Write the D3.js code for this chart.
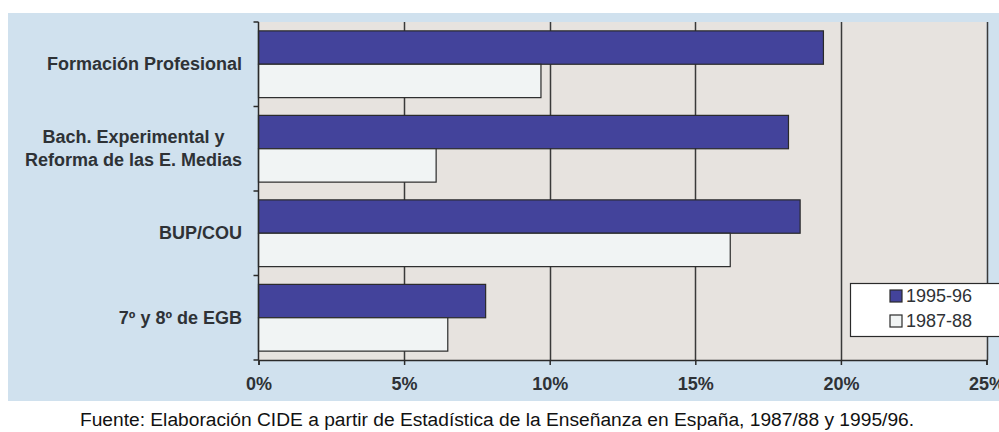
<!DOCTYPE html>
<html>
<head>
<meta charset="utf-8">
<script src="https://cdn.jsdelivr.net/npm/d3@7"></script>
<style>
  html, body { margin: 0; padding: 0; background: #ffffff; }
  svg { display: block; }
  text { font-family: Arial, "Liberation Sans", Helvetica, sans-serif; }
</style>
</head>
<body>
<svg id="chart" width="999" height="432"></svg>
<script>
// Categories, top to bottom
const categories = [
  "Formación Profesional",
  "Bach. Experimental y\nReforma de las E. Medias",
  "BUP/COU",
  "7º y 8º de EGB"
];
const seriesNames = ["1995-96", "1987-88"];
// Percentages per category
const values9596 = [19.4, 18.2, 18.6, 7.8];
const values8788 = [9.7, 6.1, 16.2, 6.5];
const tickValues = [0, 5, 10, 15, 20, 25];
const caption = "Fuente: Elaboración CIDE a partir de Estadística de la Enseñanza en España, 1987/88 y 1995/96.";

const colors = { "1995-96": "#43439b", "1987-88": "#f1f4f4" };
const ink = "#2e3236";

const svg = d3.select("#chart");

// Outer light-blue panel
svg.append("rect")
  .attr("x", 8).attr("y", 13).attr("width", 999).attr("height", 388)
  .attr("fill", "#d0e1ee");

const plot = { left: 258.5, right: 986.5, top: 22, bottom: 360 };

const x = d3.scaleLinear().domain([0, 25]).range([plot.left, plot.right]);
const y = d3.scaleBand().domain(categories).range([plot.top, plot.bottom]).paddingInner(0.21).paddingOuter(0.105);
const ySub = d3.scaleBand().domain(seriesNames).range([0, y.bandwidth()]);

// Plot background
svg.append("rect")
  .attr("x", plot.left).attr("y", plot.top)
  .attr("width", plot.right - plot.left).attr("height", plot.bottom - plot.top)
  .attr("fill", "#e7e3df");

// Vertical gridlines
svg.append("g")
  .selectAll("line")
  .data(tickValues.filter(d => d > 0))
  .join("line")
  .attr("x1", d => Math.round(x(d)) + 0.5).attr("x2", d => Math.round(x(d)) + 0.5)
  .attr("y1", plot.top).attr("y2", plot.bottom)
  .attr("stroke", "#3a3a3a").attr("stroke-width", 1.5);

// Bars
const rows = categories.map((c, i) => ({
  cat: c,
  items: [
    { s: "1995-96", v: values9596[i] },
    { s: "1987-88", v: values8788[i] }
  ]
}));

const groups = svg.append("g").selectAll("g")
  .data(rows)
  .join("g")
  .attr("transform", d => `translate(0,${y(d.cat)})`);

groups.selectAll("rect")
  .data(d => d.items)
  .join("rect")
  .attr("x", x(0))
  .attr("y", d => ySub(d.s))
  .attr("width", d => x(d.v) - x(0))
  .attr("height", ySub.bandwidth())
  .attr("fill", d => colors[d.s])
  .attr("stroke", "#2a2a2a")
  .attr("stroke-width", 1.2);

// Left axis line with category boundary ticks
const boundaries = d3.range(categories.length + 1).map(i => plot.top + i * (plot.bottom - plot.top) / categories.length);
svg.append("line")
  .attr("x1", plot.left).attr("x2", plot.left)
  .attr("y1", plot.top).attr("y2", plot.bottom)
  .attr("stroke", "#2a2a2a").attr("stroke-width", 1.5);
svg.append("g").selectAll("line")
  .data(boundaries)
  .join("line")
  .attr("x1", plot.left - 5).attr("x2", plot.left)
  .attr("y1", d => d).attr("y2", d => d)
  .attr("stroke", "#2a2a2a").attr("stroke-width", 1.5);

// Category labels: the block is right-aligned, lines within it are centred
const labelRight = 242;
svg.append("g").selectAll("text")
  .data(categories)
  .join("text")
  .attr("font-size", 18)
  .attr("font-weight", "bold")
  .attr("fill", ink)
  .each(function(d) {
    const lines = d.split("\n");
    const cy = y(d) + y.bandwidth() / 2;
    const lh = 23;
    const t = d3.select(this);
    const spans = lines.map((ln, i) =>
      t.append("tspan")
        .attr("y", cy + (i - (lines.length - 1) / 2) * lh + 6)
        .text(ln));
    const maxW = d3.max(spans, s => s.node().getComputedTextLength());
    t.attr("text-anchor", "middle");
    spans.forEach(s => s.attr("x", labelRight - maxW / 2));
  });

// Bottom axis
const xAxis = d3.axisBottom(x)
  .tickValues(tickValues)
  .tickFormat(d => d + "%")
  .tickSize(5)
  .tickPadding(12);
const gx = svg.append("g")
  .attr("transform", `translate(0,${plot.bottom})`)
  .call(xAxis);
gx.select(".domain").attr("stroke", "#2a2a2a").attr("stroke-width", 1.5);
gx.selectAll(".tick line").attr("stroke", "#2a2a2a").attr("stroke-width", 1.5);
gx.selectAll(".tick text")
  .attr("font-size", 18)
  .attr("font-weight", "bold")
  .attr("font-family", "Arial, 'Liberation Sans', sans-serif")
  .attr("fill", ink);

// Legend
const legend = svg.append("g").attr("transform", "translate(850,283)");
legend.append("rect")
  .attr("x", 0.5).attr("y", 0.5).attr("width", 160).attr("height", 53)
  .attr("fill", "#ffffff").attr("stroke", "#2a2a2a").attr("stroke-width", 1.2);
seriesNames.forEach((s, i) => {
  const ly = 13 + i * 25;
  legend.append("rect")
    .attr("x", 40).attr("y", ly - 6).attr("width", 12).attr("height", 12)
    .attr("fill", colors[s]).attr("stroke", "#2a2a2a").attr("stroke-width", 1.2);
  legend.append("text")
    .attr("x", 56).attr("y", ly + 6)
    .attr("font-size", 18)
    .attr("fill", ink)
    .text(s);
});

// Source caption
svg.append("text")
  .attr("x", 497).attr("y", 426)
  .attr("text-anchor", "middle")
  .attr("font-size", 19.2)
  .attr("fill", "#111")
  .text(caption);
</script>
</body>
</html>
